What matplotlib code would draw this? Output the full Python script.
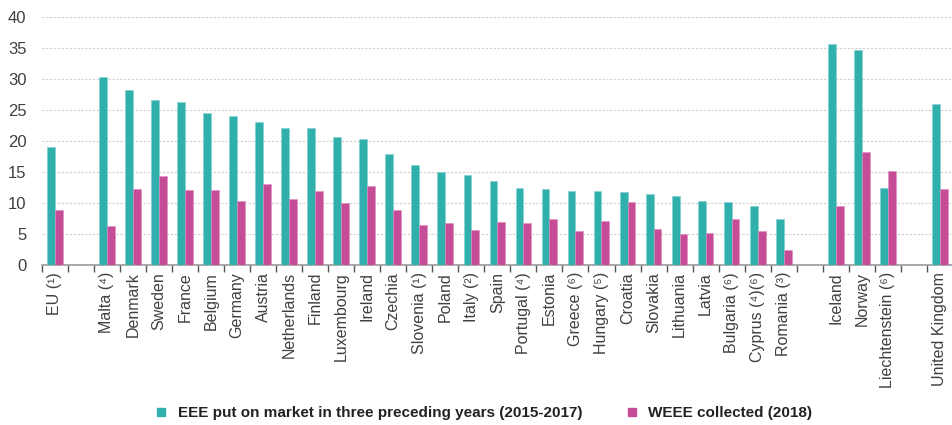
import numpy as np
import matplotlib
matplotlib.use("Agg")
import matplotlib.pyplot as plt
from matplotlib.lines import Line2D

plt.rcParams['font.family'] = ['Liberation Sans', 'DejaVu Sans']

# empty strings are the gaps between groups
countries = ['EU (¹)', '',
             'Malta (⁴)', 'Denmark', 'Sweden', 'France', 'Belgium', 'Germany',
             'Austria', 'Netherlands', 'Finland', 'Luxembourg', 'Ireland',
             'Czechia', 'Slovenia (¹)', 'Poland', 'Italy (²)', 'Spain',
             'Portugal (⁴)', 'Estonia', 'Greece (⁶)', 'Hungary (⁵)', 'Croatia',
             'Slovakia', 'Lithuania', 'Latvia', 'Bulgaria (⁶)', 'Cyprus (⁴)(⁶)',
             'Romania (³)', '',
             'Iceland', 'Norway', 'Liechtenstein (⁶)', '',
             'United Kingdom']

eee = [19.0, np.nan,
       30.4, 28.2, 26.6, 26.4, 24.5, 24.0, 23.1, 22.2, 22.2, 20.7, 20.4,
       18.0, 16.1, 15.0, 14.5, 13.6, 12.5, 12.2, 12.0, 12.0, 11.8, 11.5,
       11.2, 10.4, 10.1, 9.6, 7.4, np.nan,
       35.7, 34.7, 12.5, np.nan,
       26.0]

weee = [8.9, np.nan,
        6.3, 12.3, 14.3, 12.1, 12.1, 10.3, 13.1, 10.7, 12.0, 10.0, 12.8,
        8.9, 6.5, 6.8, 5.7, 6.9, 6.8, 7.5, 5.5, 7.1, 10.1, 5.8,
        5.0, 5.2, 7.5, 5.5, 2.4, np.nan,
        9.5, 18.2, 15.2, np.nan,
        12.3]

teal = '#31AFAD'
pink = '#C64C98'
grey = '#404040'

fig = plt.figure(figsize=(9.53, 4.25), dpi=100)
ax = fig.add_axes([41.7 / 953, 160 / 425, (953 - 41.7) / 953, (265 - 17.3) / 425])

x = np.arange(len(countries))
w = 0.3
ax.bar(x - w / 2, eee, width=w, color=teal, edgecolor='#7fd3d1', linewidth=0.4, zorder=3)
ax.bar(x + w / 2, weee, width=w, color=pink, edgecolor='#e08cc0', linewidth=0.4, zorder=3)

ax.set_ylim(0, 40)
ax.set_xlim(-0.5, 34.5 - 9 / 26.3)
ax.set_yticks(range(0, 41, 5))
ax.yaxis.grid(True, color='#d0d0d0', linestyle=(0, (2, 1.5)), linewidth=0.8, zorder=0)
ax.tick_params(axis='y', length=0, pad=11, labelsize=12, labelcolor=grey)

ax.set_xticks(x)
ax.set_xticklabels(countries, rotation=90, fontsize=11.5, color=grey, va='top')
ax.set_xticks(np.arange(-0.5, len(countries), 1), minor=True)
ax.tick_params(axis='x', which='major', length=0, pad=5)
ax.tick_params(axis='x', which='minor', length=5, width=1, color='#555555', direction='out')

for s in ['left', 'right', 'top']:
    ax.spines[s].set_visible(False)
ax.spines['bottom'].set_color('#999999')
ax.spines['bottom'].set_linewidth(1.2)

handles = [Line2D([], [], marker='s', linestyle='none', color=teal, markersize=6),
           Line2D([], [], marker='s', linestyle='none', color=pink, markersize=6)]
fig.legend(handles,
           ['EEE put on market in three preceding years (2015-2017)', 'WEEE collected (2018)'],
           loc='center', bbox_to_anchor=(0.503, 12 / 425), ncol=2, frameon=False,
           prop={'weight': 'bold', 'size': 11}, handletextpad=0.1, columnspacing=2.2,
           labelcolor='#222222')

fig.savefig('out.png', dpi=100)
